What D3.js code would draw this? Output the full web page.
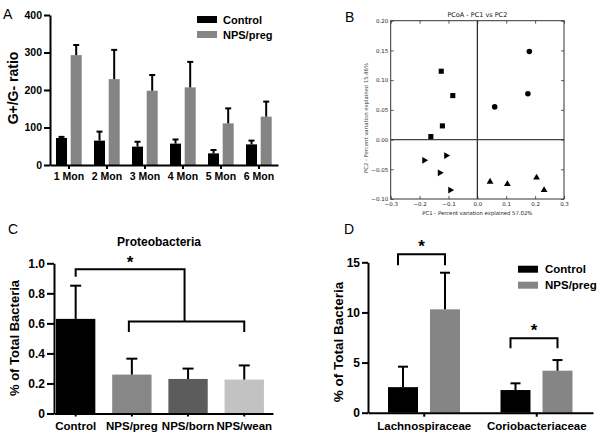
<!DOCTYPE html>
<html><head><meta charset="utf-8">
<script src="https://cdn.jsdelivr.net/npm/d3@7"></script>
<style>body{margin:0;background:#fff}svg{display:block}</style>
</head><body>
<script>
// ---------- Panel A data ----------
const monthLabels = ["1 Mon","2 Mon","3 Mon","4 Mon","5 Mon","6 Mon"];
const seriesNames = ["Control","NPS/preg"];
const ratioControl = [72, 65, 49, 57, 31, 55];
const ratioControlSem = [3, 24, 13, 11, 9, 10];
const ratioNps = [293, 229, 198, 207, 111, 129];
const ratioNpsSem = [27, 78, 42, 68, 40, 40];
const ratioTicks = [0, 100, 200, 300, 400];

// ---------- Panel B data (PCoA) ----------
const squarePc1 = [-0.125, -0.085, -0.121, -0.161];
const squarePc2 = [0.115, 0.074, 0.023, 0.005];
const circlePc1 = [0.18, 0.175, 0.06];
const circlePc2 = [0.148, 0.077, 0.055];
const rightTriPc1 = [-0.184, -0.108, -0.130, -0.094];
const rightTriPc2 = [-0.035, -0.027, -0.056, -0.085];
const upTriPc1 = [0.044, 0.104, 0.205, 0.231];
const upTriPc2 = [-0.071, -0.075, -0.064, -0.085];
const pc1Ticks = [-0.3, -0.2, -0.1, 0.0, 0.1, 0.2, 0.3];
const pc2Ticks = [-0.10, -0.05, 0.00, 0.05, 0.10, 0.15, 0.20];

// ---------- Panel C data ----------
const proteoGroups = ["Control","NPS/preg","NPS/born","NPS/wean"];
const proteoMean = [0.63, 0.259, 0.23, 0.226];
const proteoSem = [0.221, 0.106, 0.069, 0.094];
const proteoTicks = [0, 0.2, 0.4, 0.6, 0.8, 1.0];

// ---------- Panel D data ----------
const families = ["Lachnospiraceae","Coriobacteriaceae"];
const famControl = [2.55, 2.26];
const famControlSem = [2.04, 0.67];
const famNps = [10.31, 4.19];
const famNpsSem = [3.65, 1.06];
const famTicks = [0, 5, 10, 15];

const BOLD = "'Liberation Sans', Arial, sans-serif";
const MPL = "'DejaVu Sans', sans-serif";
const GREY = "#858585";

const svg = d3.select("body").append("svg").attr("width", 601).attr("height", 438);

function styleAxis(g, size) {
  g.selectAll("path.domain").attr("stroke", "#000").attr("stroke-width", 2);
  g.selectAll(".tick line").attr("stroke", "#000").attr("stroke-width", 2);
  g.selectAll(".tick text").attr("font-family", BOLD).attr("font-weight", "bold")
    .attr("font-size", size).attr("fill", "#000");
}
function errBar(g, x, y0, y1, cap) {
  g.append("line").attr("x1", x).attr("x2", x).attr("y1", y0).attr("y2", y1)
    .attr("stroke", "#000").attr("stroke-width", 2);
  g.append("line").attr("x1", x - cap).attr("x2", x + cap).attr("y1", y1).attr("y2", y1)
    .attr("stroke", "#000").attr("stroke-width", 2);
}
function panelLetter(t, x, y) {
  svg.append("text").attr("x", x).attr("y", y).text(t)
    .attr("font-family", BOLD).attr("font-size", 14).attr("fill", "#000");
}

// ================= Panel A =================
{
  const g = svg.append("g");
  const y = d3.scaleLinear().domain([0, 400]).range([165, 15]);
  const x = d3.scaleBand().domain(monthLabels).range([50, 278]);
  const xi = d3.scaleBand().domain(seriesNames).range([6, 31.7]).paddingInner(0.25);
  const colors = ["#000", GREY];
  const means = [ratioControl, ratioNps];
  const sems = [ratioControlSem, ratioNpsSem];
  seriesNames.forEach((s, si) => {
    monthLabels.forEach((m, i) => {
      const bx = x(m) + xi(s);
      g.append("rect").attr("x", bx).attr("y", y(means[si][i]))
        .attr("width", xi.bandwidth()).attr("height", y(0) - y(means[si][i]))
        .attr("fill", colors[si]);
      errBar(g, bx + xi.bandwidth() / 2, y(means[si][i]), y(means[si][i] + sems[si][i]), 3);
    });
  });
  const ya = g.append("g").attr("transform", "translate(50,0)")
    .call(d3.axisLeft(y).tickValues(ratioTicks).tickSize(6).tickPadding(2).tickSizeOuter(0));
  styleAxis(ya, 10.5);
  const xa = g.append("g").attr("transform", "translate(0,165)")
    .call(d3.axisBottom(x).tickSize(4).tickPadding(4).tickSizeOuter(0));
  styleAxis(xa, 10.5);
  g.append("text").attr("transform", "translate(18,88) rotate(-90)").attr("text-anchor", "middle")
    .attr("font-family", BOLD).attr("font-weight", "bold").attr("font-size", 14).text("G+/G- ratio");
  seriesNames.forEach((s, si) => {
    g.append("rect").attr("x", 197).attr("y", 16 + si * 15).attr("width", 20).attr("height", 7)
      .attr("fill", colors[si]);
    g.append("text").attr("x", 223).attr("y", 23.5 + si * 15).text(s)
      .attr("font-family", BOLD).attr("font-weight", "bold").attr("font-size", 11);
  });
  panelLetter("A", 3, 18.5);
}

// ================= Panel B =================
{
  const g = svg.append("g");
  const x = d3.scaleLinear().domain([-0.3, 0.3]).range([390.7, 564]);
  const y = d3.scaleLinear().domain([-0.1, 0.2]).range([199, 20.7]);
  g.append("rect").attr("x", x(-0.3)).attr("y", y(0.2)).attr("width", x(0.3) - x(-0.3))
    .attr("height", y(-0.1) - y(0.2)).attr("fill", "none").attr("stroke", "#333").attr("stroke-width", 1);
  g.append("line").attr("x1", x(0)).attr("x2", x(0)).attr("y1", y(0.2)).attr("y2", y(-0.1))
    .attr("stroke", "#222").attr("stroke-width", 1.2);
  g.append("line").attr("x1", x(-0.3)).attr("x2", x(0.3)).attr("y1", y(0)).attr("y2", y(0))
    .attr("stroke", "#444").attr("stroke-width", 1.2);
  const fmtX = d3.format(".1f"), fmtY = d3.format(".2f");
  const axes = [
    g.append("g").attr("transform", `translate(0,${y(-0.1)})`).call(d3.axisBottom(x).tickValues(pc1Ticks).tickFormat(fmtX).tickSize(-3).tickPadding(3.5).tickSizeOuter(0)),
    g.append("g").attr("transform", `translate(0,${y(0.2)})`).call(d3.axisTop(x).tickValues(pc1Ticks).tickFormat("").tickSize(-3).tickSizeOuter(0)),
    g.append("g").attr("transform", `translate(${x(-0.3)},0)`).call(d3.axisLeft(y).tickValues(pc2Ticks).tickFormat(fmtY).tickSize(-3).tickPadding(2.5).tickSizeOuter(0)),
    g.append("g").attr("transform", `translate(${x(0.3)},0)`).call(d3.axisRight(y).tickValues(pc2Ticks).tickFormat("").tickSize(-3).tickSizeOuter(0))
  ];
  axes.forEach(a => {
    a.selectAll("path.domain").remove();
    a.selectAll(".tick line").attr("stroke", "#333").attr("stroke-width", 0.8);
    a.selectAll(".tick text").attr("font-family", MPL).attr("font-size", 5.5).attr("fill", "#222");
  });
  const sets = [
    [squarePc1, squarePc2, d3.symbolSquare, 0, 26],
    [circlePc1, circlePc2, d3.symbolCircle, 0, 24],
    [rightTriPc1, rightTriPc2, d3.symbolTriangle, 90, 20],
    [upTriPc1, upTriPc2, d3.symbolTriangle, 0, 20]
  ];
  sets.forEach(([px, py, type, rot, size]) => {
    px.forEach((v, i) => {
      g.append("path").attr("d", d3.symbol().type(type).size(size)())
        .attr("transform", `translate(${x(v)},${y(py[i])}) rotate(${rot})`).attr("fill", "#000");
    });
  });
  g.append("text").attr("x", x(0)).attr("y", 17).attr("text-anchor", "middle")
    .attr("font-family", MPL).attr("font-size", 6.5).attr("fill", "#111").text("PCoA - PC1 vs PC2");
  g.append("text").attr("x", x(0)).attr("y", 214.5).attr("text-anchor", "middle")
    .attr("font-family", MPL).attr("font-size", 5.3).attr("fill", "#222").text("PC1 - Percent variation explained 57.02%");
  g.append("text").attr("transform", `translate(368,118) rotate(-90)`).attr("text-anchor", "middle")
    .attr("font-family", MPL).attr("font-size", 5.3).attr("fill", "#444").text("PC2 - Percent variation explained 15.46%");
  panelLetter("B", 345, 21.5);
}

// ================= Panel C =================
{
  const g = svg.append("g");
  const y = d3.scaleLinear().domain([0, 1]).range([413.5, 263.3]);
  const x = d3.scaleBand().domain(proteoGroups).range([54, 273]).paddingInner(0.3).paddingOuter(0.0985).align(0.18);
  const colors = ["#000", "#878787", "#5c5c5c", "#c2c2c2"];
  proteoGroups.forEach((c, i) => {
    g.append("rect").attr("x", x(c)).attr("y", y(proteoMean[i])).attr("width", x.bandwidth())
      .attr("height", y(0) - y(proteoMean[i])).attr("fill", colors[i]);
    errBar(g, x(c) + x.bandwidth() / 2, y(proteoMean[i]), y(proteoMean[i] + proteoSem[i]), 5.5);
  });
  const ya = g.append("g").attr("transform", "translate(54,0)")
    .call(d3.axisLeft(y).tickValues(proteoTicks).tickFormat(d => d === 0 ? "0" : d3.format(".1f")(d)).tickSize(7).tickPadding(2).tickSizeOuter(0));
  styleAxis(ya, 12);
  const xa = g.append("g").attr("transform", `translate(0,${y(0)})`)
    .call(d3.axisBottom(x).tickSize(3).tickPadding(5).tickSizeOuter(0));
  styleAxis(xa, 11.5);
  const cx = c => x(c) + x.bandwidth() / 2;
  const upperY = y(0.96), upperLeg = y(0.91), lowerY = y(0.6125), lowerLeg = y(0.542);
  const lowL = cx("NPS/preg") - 3, lowR = cx("NPS/wean");
  const mid = (lowL + lowR) / 2 - 2;
  g.append("path").attr("d", `M${cx("Control")},${upperLeg}V${upperY}H${mid}V${lowerY}`)
    .attr("fill", "none").attr("stroke", "#000").attr("stroke-width", 2);
  g.append("path").attr("d", `M${lowL},${lowerLeg}V${lowerY}H${lowR}V${lowerLeg}`)
    .attr("fill", "none").attr("stroke", "#000").attr("stroke-width", 2);
  g.append("text").attr("x", (cx("Control") + mid) / 2).attr("y", 268).attr("text-anchor", "middle")
    .attr("font-family", BOLD).attr("font-weight", "bold").attr("font-size", 17).text("*");
  g.append("text").attr("x", 159).attr("y", 246).attr("text-anchor", "middle")
    .attr("font-family", BOLD).attr("font-weight", "bold").attr("font-size", 12).text("Proteobacteria");
  g.append("text").attr("transform", "translate(19,338) rotate(-90)").attr("text-anchor", "middle")
    .attr("font-family", BOLD).attr("font-weight", "bold").attr("font-size", 13).text("% of Total Bacteria");
  panelLetter("C", 8, 234);
}

// ================= Panel D =================
{
  const g = svg.append("g");
  const y = d3.scaleLinear().domain([0, 15]).range([412.7, 262.3]);
  const x = d3.scaleBand().domain(families).range([368, 593]);
  const xi = d3.scaleBand().domain(seriesNames).range([20, 92]).paddingInner(0.286);
  const colors = ["#000", GREY];
  const means = [famControl, famNps];
  const sems = [famControlSem, famNpsSem];
  seriesNames.forEach((s, si) => {
    families.forEach((f, i) => {
      const bx = x(f) + xi(s);
      g.append("rect").attr("x", bx).attr("y", y(means[si][i])).attr("width", xi.bandwidth())
        .attr("height", y(0) - y(means[si][i])).attr("fill", colors[si]);
      errBar(g, bx + xi.bandwidth() / 2, y(means[si][i]), y(means[si][i] + sems[si][i]), 5);
    });
  });
  const ya = g.append("g").attr("transform", "translate(368,0)")
    .call(d3.axisLeft(y).tickValues(famTicks).tickSize(6).tickPadding(2).tickSizeOuter(0));
  styleAxis(ya, 12);
  const xa = g.append("g").attr("transform", `translate(0,${y(0)})`)
    .call(d3.axisBottom(x).tickSize(4).tickPadding(5).tickSizeOuter(0));
  styleAxis(xa, 11.5);
  const brackets = [[15.8, 14.7], [7.42, 6.42]];
  families.forEach((f, i) => {
    const l = x(f) + xi("Control") + xi.bandwidth() / 2 - 5;
    const r = x(f) + xi("NPS/preg") + xi.bandwidth() / 2;
    const [top, leg] = brackets[i];
    g.append("path").attr("d", `M${l},${y(leg)}V${y(top)}H${r}V${y(leg)}`)
      .attr("fill", "none").attr("stroke", "#000").attr("stroke-width", 2);
    g.append("text").attr("x", (l + r) / 2).attr("y", y(top) - 2).attr("text-anchor", "middle")
      .attr("font-family", BOLD).attr("font-weight", "bold").attr("font-size", 17).text("*");
  });
  seriesNames.forEach((s, si) => {
    g.append("rect").attr("x", 518).attr("y", 265.7 + si * 16).attr("width", 20).attr("height", 7)
      .attr("fill", colors[si]);
    g.append("text").attr("x", 545).attr("y", 273.3 + si * 16).text(s)
      .attr("font-family", BOLD).attr("font-weight", "bold").attr("font-size", 11.5);
  });
  g.append("text").attr("transform", "translate(343,342) rotate(-90)").attr("text-anchor", "middle")
    .attr("font-family", BOLD).attr("font-weight", "bold").attr("font-size", 13.5).text("% of Total Bacteria");
  panelLetter("D", 344, 234);
}
</script>
</body></html>
